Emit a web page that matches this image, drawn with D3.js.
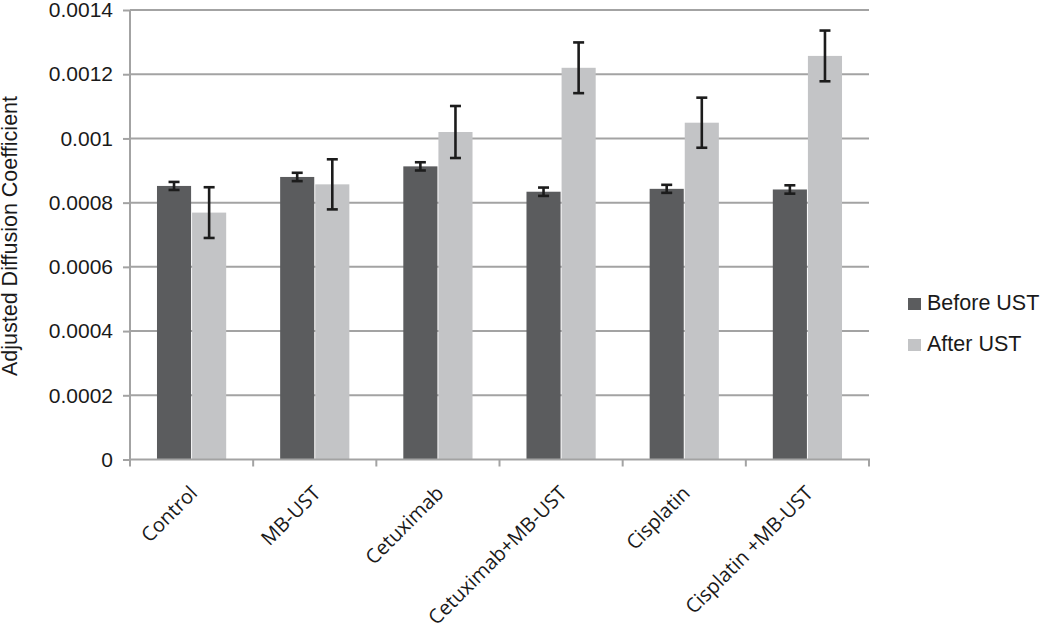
<!DOCTYPE html>
<html><head><meta charset="utf-8">
<script src="https://cdn.jsdelivr.net/npm/d3@7"></script>
<style>body{margin:0;background:#fff}svg{display:block}</style>
</head><body>
<svg id="c" width="1050" height="632"></svg>
<script>
const categories = ["Control","MB-UST","Cetuximab","Cetuximab+MB-UST","Cisplatin","Cisplatin +MB-UST"];
const seriesNames = ["Before UST","After UST"];
const beforeValues = [0.000852,0.000880,0.000913,0.000834,0.000843,0.000841];
const beforeErrors = [0.0000125,0.000013,0.0000128,0.000013,0.0000125,0.000013];
const afterValues = [0.000769,0.000857,0.00102,0.00122,0.001049,0.001257];
const afterErrors = [0.000079,0.000078,0.000081,0.000079,0.000078,0.000079];
const yTicks = [0,0.0002,0.0004,0.0006,0.0008,0.001,0.0012,0.0014];
const yTickLabels = ["0","0.0002","0.0004","0.0006","0.0008","0.001","0.0012","0.0014"];
const colors = ["#5b5c5e","#c3c4c6"];

const svg = d3.select("#c");
const L=130,R=869,T=10,B=459.5;
const x0 = d3.scaleBand().domain(categories).range([L,R]).padding(0);
const groupW = x0.bandwidth()*0.57;
const x1 = d3.scaleBand().domain(seriesNames).range([0,groupW]).padding(0);
const y = d3.scaleLinear().domain([0,0.0014]).range([B,T]);
const sans = "Liberation Sans, Arial, Helvetica, sans-serif";

// gridlines
svg.append("g").selectAll("line").data(yTicks.slice(1)).join("line")
  .attr("x1",L).attr("x2",R).attr("y1",d=>y(d)).attr("y2",d=>y(d))
  .attr("stroke","#a3a3a3").attr("stroke-width",2);

const data = categories.map((c,i)=>({cat:c, vals:[
  {s:seriesNames[0],v:beforeValues[i],e:beforeErrors[i],c:colors[0]},
  {s:seriesNames[1],v:afterValues[i],e:afterErrors[i],c:colors[1]}]}));

const g = svg.append("g").selectAll("g").data(data).join("g")
  .attr("transform",d=>`translate(${x0(d.cat)+(x0.bandwidth()-groupW)/2},0)`);
g.selectAll("rect").data(d=>d.vals).join("rect")
  .attr("x",d=>x1(d.s)+0.5).attr("width",x1.bandwidth()-1)
  .attr("y",d=>y(d.v)).attr("height",d=>B-y(d.v)).attr("fill",d=>d.c);
const eb = g.selectAll("g.eb").data(d=>d.vals).join("g").attr("class","eb")
  .attr("stroke","#1c1c1c").attr("stroke-width",2.6);
eb.append("line").attr("x1",d=>x1(d.s)+x1.bandwidth()/2).attr("x2",d=>x1(d.s)+x1.bandwidth()/2)
  .attr("y1",d=>y(d.v+d.e)).attr("y2",d=>y(d.v-d.e));
eb.append("line").attr("x1",d=>x1(d.s)+x1.bandwidth()/2-5.5).attr("x2",d=>x1(d.s)+x1.bandwidth()/2+5.5)
  .attr("y1",d=>y(d.v+d.e)).attr("y2",d=>y(d.v+d.e));
eb.append("line").attr("x1",d=>x1(d.s)+x1.bandwidth()/2-5.5).attr("x2",d=>x1(d.s)+x1.bandwidth()/2+5.5)
  .attr("y1",d=>y(d.v-d.e)).attr("y2",d=>y(d.v-d.e));

// y axis
const ya = svg.append("g").attr("transform",`translate(${L},0)`)
  .call(d3.axisLeft(y).tickValues(yTicks).tickFormat((d,i)=>yTickLabels[i]).tickSize(7).tickPadding(10));
ya.select(".domain").attr("stroke","#a3a3a3").attr("stroke-width",2).attr("d",`M0,${T}V${B}`);
ya.selectAll(".tick line").attr("stroke","#a3a3a3").attr("stroke-width",2);
ya.selectAll("text").attr("font-family",sans).attr("font-size",21).attr("fill","#1a1a1a");

// x axis
const xa = svg.append("g").attr("transform",`translate(0,${B})`);
xa.append("line").attr("x1",L-1).attr("x2",R+1).attr("y1",0).attr("y2",0).attr("stroke","#a3a3a3").attr("stroke-width",2);
const xt = categories.map(c=>x0(c)).concat([R]);
xa.selectAll("line.t").data(xt).join("line").attr("class","t")
  .attr("x1",d=>d).attr("x2",d=>d).attr("y1",0).attr("y2",7).attr("stroke","#a3a3a3").attr("stroke-width",2);
xa.selectAll("text").data(categories).join("text")
  .attr("transform",d=>`translate(${x0(d)+x0.bandwidth()/2+7},${35}) rotate(-45)`)
  .attr("text-anchor","end")
  .attr("font-family","Open Sans, sans-serif").attr("font-size",20).attr("fill","#1a1a1a")
  .text(d=>d);

// y title
svg.append("text").attr("transform","translate(17,236) rotate(-90)")
  .attr("text-anchor","middle").attr("font-family",sans)
  .attr("font-size",21.5).attr("fill","#1a1a1a").text("Adjusted Diffusion Coefficient");

// legend
const lg = svg.append("g").selectAll("g").data(seriesNames).join("g")
  .attr("transform",(d,i)=>`translate(908,${298+i*41})`);
lg.append("rect").attr("width",13).attr("height",12).attr("fill",(d,i)=>colors[i]);
lg.append("text").attr("x",19).attr("y",11.5).attr("font-family",sans)
  .attr("font-size",21.5).attr("fill","#1a1a1a").text(d=>d);
</script>
</body></html>
